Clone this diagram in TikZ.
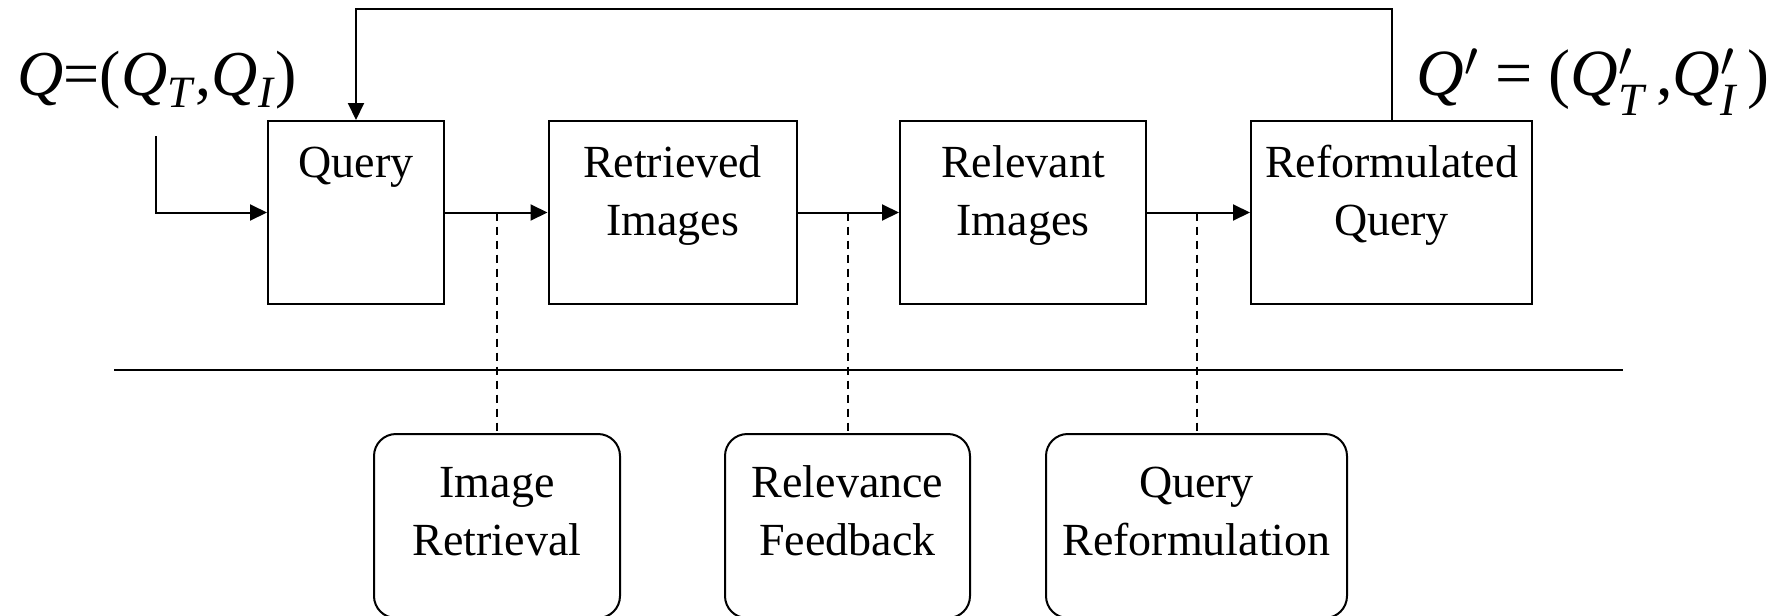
\documentclass[tikz,border=0pt]{standalone}
\usepackage{amsmath}
\usepackage{fontspec}
\setmainfont{Liberation Serif}
\usetikzlibrary{arrows.meta}

\begin{document}
\begin{tikzpicture}[x=0.5pt, y=-0.5pt,
        box/.style={draw, line width=1pt, inner sep=0pt, align=center,
            font=\fontsize{23}{29}\selectfont},
        stage/.style={box, text height=28pt, text depth=63.5pt},
        task/.style={box, rounded corners=11pt, text height=31.5pt, text depth=60.5pt},
        arr/.style={line width=1pt, -{Triangle[length=8.5pt, width=8pt]}},
        link/.style={line width=1pt, dash pattern=on 4pt off 3pt}]
            \useasboundingbox (0,0) rectangle (1790,616);

            % Stages
            \node[stage, text width=88pt] (qry) at (356,212.5) {Query};
            \node[stage, text width=124pt] (retr) at (672.5,212.5) {Retrieved\\Images};
            \node[stage, text width=123pt] (relv) at (1023,212.5) {Relevant\\Images};
            \node[stage, text width=140.5pt] (reform) at (1391.5,212.5) {Reformulated\\Query};

            % Tasks below the line
            \node[task, text width=123pt] (imgret) at (497,526) {Image\\Retrieval};
            \node[task, text width=122.5pt] (relfb) at (847.5,526) {Relevance\\Feedback};
            \node[task, text width=150.5pt] (qreform) at (1196.5,526) {Query\\Reformulation};

            % Queries
            \node[anchor=base west, inner sep=0pt, font=\fontsize{32}{38}\selectfont] (qeq) at (17,95)
                {\textit{Q}=(\textit{Q}\textsubscript{\textit{T}},\textit{Q}\textsubscript{\textit{I}})};
            \node[anchor=base west, inner sep=0pt, font=\fontsize{33}{38}\selectfont] (qeqnew) at (1416,95)
                {\textit{Q}$'$ = (\textit{Q}$'_{\text{\itshape T}}$\,,\textit{Q}$'_{\text{\itshape I}}$\,)};

            % Flow
            \coordinate (qin) at (156,136);
            \coordinate (fbtop) at (0,9);
            \draw[arr] (qin) |- (qry.west);
            \draw[arr] (qry.east) -- (retr.west);
            \draw[arr] (retr.east) -- (relv.west);
            \draw[arr] (relv.east) -- (reform.west);
            \draw[arr] (reform.north) -- (reform.north |- fbtop) -| (qry.north);

            % Separator
            \draw[line width=1pt] (114,370) -- (1623,370);

            % Task links
            \draw[link] (imgret.north |- qry.east) -- (imgret.north);
            \draw[link] (relfb.north |- qry.east) -- (relfb.north);
            \draw[link] (qreform.north |- qry.east) -- (qreform.north);

        \end{tikzpicture}
\end{document}
